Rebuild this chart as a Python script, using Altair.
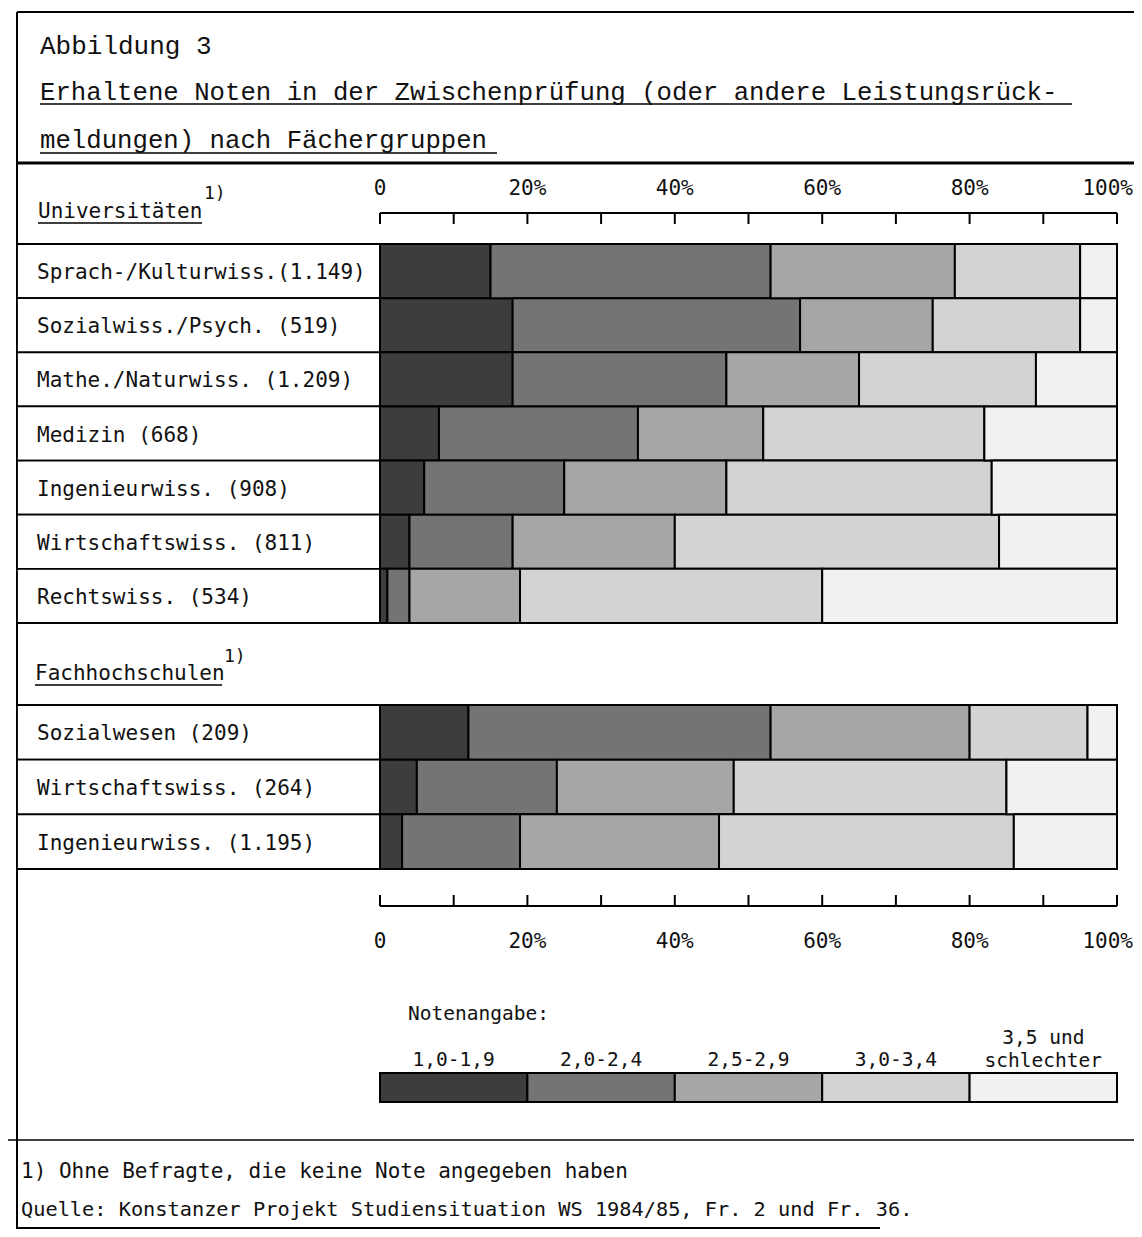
import altair as alt
import pandas as pd

# ---------------- data ----------------
uni_labels = [
    "Sprach-/Kulturwiss.(1.149)",
    "Sozialwiss./Psych. (519)",
    "Mathe./Naturwiss. (1.209)",
    "Medizin (668)",
    "Ingenieurwiss. (908)",
    "Wirtschaftswiss. (811)",
    "Rechtswiss. (534)",
]
fh_labels = [
    "Sozialwesen (209)",
    "Wirtschaftswiss. (264)",
    "Ingenieurwiss. (1.195)",
]
grades = ["1,0-1,9", "2,0-2,4", "2,5-2,9", "3,0-3,4", "3,5 und\nschlechter"]

# percent shares per grade (Universitäten, in uni_labels order)
uni_g1 = [15, 18, 18, 8, 6, 4, 1]
uni_g2 = [38, 39, 29, 27, 19, 14, 3]
uni_g3 = [25, 18, 18, 17, 22, 22, 15]
uni_g4 = [17, 20, 24, 30, 36, 44, 41]
uni_g5 = [5, 5, 11, 18, 17, 16, 40]

# percent shares per grade (Fachhochschulen, in fh_labels order)
fh_g1 = [12, 5, 3]
fh_g2 = [41, 19, 16]
fh_g3 = [27, 24, 27]
fh_g4 = [16, 37, 40]
fh_g5 = [4, 15, 14]

tick_values = [0, 10, 20, 30, 40, 50, 60, 70, 80, 90, 100]
tick_label_values = [0, 20, 40, 60, 80, 100]
tick_label_texts = ["0", "20%", "40%", "60%", "80%", "100%"]

greys = ["#3d3d3d", "#747474", "#a6a6a6", "#d3d3d3", "#f1f1f1"]

MONO = "DejaVu Sans Mono"
TITLE = "Liberation Mono"
INK = "#111111"

W, H = 1126, 1221


def P(v):
    return v - 8  # page pixel -> chart pixel


def long_df(labels, cols):
    rows = []
    for gi, (g, vals) in enumerate(zip(grades, cols)):
        for lab, v in zip(labels, vals):
            rows.append({"label": lab, "grade": g, "gi": gi, "value": v})
    return pd.DataFrame(rows)


uni_df = long_df(uni_labels, [uni_g1, uni_g2, uni_g3, uni_g4, uni_g5])
fh_df = long_df(fh_labels, [fh_g1, fh_g2, fh_g3, fh_g4, fh_g5])

dummy = pd.DataFrame({"_": [0]})

xscale = alt.Scale(domain=[0, 100], range=[P(380), P(1117)], nice=False, zero=False)
color = alt.Color("grade:N", scale=alt.Scale(domain=grades, range=greys), legend=None)


def group(df, labels, top, bottom):
    ysc = alt.Scale(domain=labels, range=[P(top), P(bottom)], paddingInner=0, paddingOuter=0)
    y = alt.Y("label:N", scale=ysc, axis=None, sort=labels)
    lab_df = pd.DataFrame({"label": labels})
    boxes = alt.Chart(lab_df).mark_rect(fill="white", stroke="black", strokeWidth=1.8).encode(
        x=alt.value(P(17)), x2=alt.value(P(381)), y=y
    )
    texts = alt.Chart(lab_df).mark_text(
        align="left", baseline="middle", font=MONO, fontSize=21, color=INK, dy=2
    ).encode(x=alt.value(P(37)), y=y, text="label:N")
    bars = alt.Chart(df).mark_bar(stroke="black", strokeWidth=2).encode(
        x=alt.X("value:Q", stack="zero", scale=xscale, axis=None),
        y=y,
        color=color,
        order=alt.Order("gi:Q"),
    )
    return [boxes, texts, bars]


def hline(x1, x2, y, w=1.8):
    return alt.Chart(dummy).mark_rule(strokeWidth=w, color="black").encode(
        x=alt.value(P(x1)), x2=alt.value(P(x2)), y=alt.value(P(y))
    )


def vline(x, y1, y2, w=1.8):
    return alt.Chart(dummy).mark_rule(strokeWidth=w, color="black").encode(
        x=alt.value(P(x)), y=alt.value(P(y1)), y2=alt.value(P(y2))
    )


def txt(s, x, y, size=20.5, font=MONO, align="left", baseline="alphabetic"):
    return alt.Chart(dummy).mark_text(
        text=s, align=align, baseline=baseline, font=font, fontSize=size, color=INK
    ).encode(x=alt.value(P(x)), y=alt.value(P(y)))


ticks_df = pd.DataFrame({"t": tick_values})
tlab_df = pd.DataFrame({"t": tick_label_values, "txt": tick_label_texts})
tlab_inner = tlab_df[tlab_df["t"] < 100]
tlab_last = tlab_df[tlab_df["t"] == 100]


def axis(line_y, tick_y1, tick_y2, label_y):
    line = alt.Chart(dummy).mark_rule(strokeWidth=2, color="black").encode(
        x=alt.datum(0, scale=xscale), x2=alt.datum(100), y=alt.value(P(line_y))
    )
    ticks = alt.Chart(ticks_df).mark_rule(strokeWidth=2, color="black").encode(
        x=alt.X("t:Q", scale=xscale), y=alt.value(P(tick_y1)), y2=alt.value(P(tick_y2))
    )
    labs = alt.Chart(tlab_inner).mark_text(
        align="center", baseline="alphabetic", font=MONO, fontSize=21, color=INK
    ).encode(x=alt.X("t:Q", scale=xscale), y=alt.value(P(label_y)), text="txt:N")
    last = alt.Chart(tlab_last).mark_text(
        align="right", baseline="alphabetic", font=MONO, fontSize=21, color=INK, dx=16
    ).encode(x=alt.X("t:Q", scale=xscale), y=alt.value(P(label_y)), text="txt:N")
    return [line, ticks, labs, last]


n = len(grades)
leg_df = pd.DataFrame({
    "grade": grades,
    "start": [100 * i / n for i in range(n)],
    "end": [100 * (i + 1) / n for i in range(n)],
})
leg_df["mid"] = (leg_df["start"] + leg_df["end"]) / 2
leg_single = leg_df[~leg_df["grade"].str.contains("\n")]
leg_multi = leg_df[leg_df["grade"].str.contains("\n")]

legend_bar = alt.Chart(leg_df).mark_rect(stroke="black", strokeWidth=2).encode(
    x=alt.X("start:Q", scale=xscale), x2="end:Q",
    y=alt.value(P(1073)), y2=alt.value(P(1102)), color=color,
)
legend_txt = alt.Chart(leg_single).mark_text(
    align="center", baseline="alphabetic", font=MONO, fontSize=19.5, color=INK,
).encode(x=alt.X("mid:Q", scale=xscale), y=alt.value(P(1066)), text="grade:N")
legend_txt2 = alt.Chart(leg_multi).mark_text(
    align="center", baseline="alphabetic", lineBreak="\n", font=MONO, fontSize=19.5,
    color=INK, lineHeight=23,
).encode(x=alt.X("mid:Q", scale=xscale), y=alt.value(P(1044)), text="grade:N")

layers = []
# frame
layers += [
    vline(17, 12, 1229, 2),
    hline(17, 1142, 12, 2),
    hline(40, 1072, 104, 1.5),
    hline(40, 497, 153, 1.5),
    hline(17, 1142, 163, 2.8),
    hline(38, 202, 223, 1.5),
    hline(35, 222, 685, 1.5),
    hline(8, 1142, 1140, 1.6),
    hline(17, 880, 1228, 1.8),
]
# titles and texts
layers += [
    txt("Abbildung 3", 40, 54, 26, TITLE),
    txt("Erhaltene Noten in der Zwischenprüfung (oder andere Leistungsrück-", 40, 100, 25.7, TITLE),
    txt("meldungen) nach Fächergruppen", 40, 148, 25.7, TITLE),
    txt("Universitäten", 38, 218, 21),
    txt("1)", 204, 199, 18),
    txt("Fachhochschulen", 35, 680, 21),
    txt("1)", 224, 662, 18),
    txt("Notenangabe:", 408, 1020, 19.5),
    txt("1) Ohne Befragte, die keine Note angegeben haben", 21, 1178, 21),
    txt("Quelle: Konstanzer Projekt Studiensituation WS 1984/85, Fr. 2 und Fr. 36.", 21, 1216, 20.3),
]
layers += group(uni_df, uni_labels, 244, 623)
layers += group(fh_df, fh_labels, 705, 869)
layers += axis(213, 213, 224, 195)
layers += axis(906, 895, 906, 948)
layers += [legend_bar, legend_txt, legend_txt2]

chart = (
    alt.layer(*layers)
    .resolve_scale(y="independent")
    .properties(width=W, height=H, autosize="none", padding=0)
    .configure_view(stroke=None)
)

chart.save("out.html", embed_options={"renderer": "svg", "actions": False})
